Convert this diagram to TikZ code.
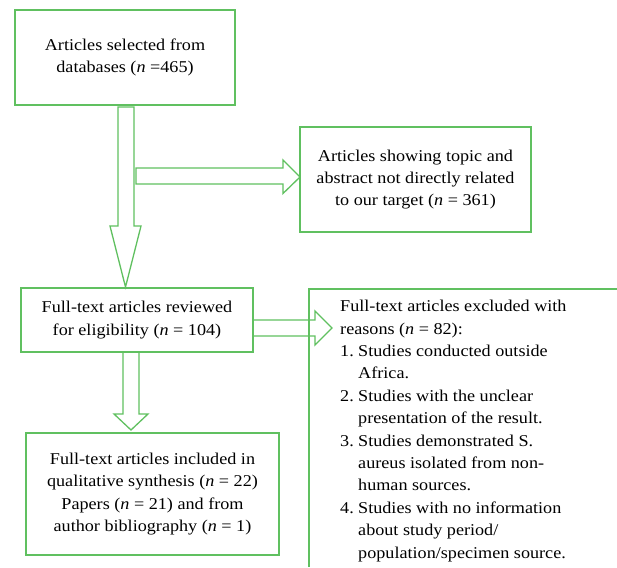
\documentclass[tikz,border=0pt]{standalone}
\usepackage{fontspec}
\setmainfont{Liberation Serif}[FakeStretch=1.1]
\definecolor{flowgreen}{RGB}{96,192,96}
\begin{document}
\begin{tikzpicture}[x=1pt,y=-1pt,
  box/.style={draw=flowgreen,line width=1.3pt,align=center,inner sep=0pt,font=\fontsize{16.5}{22.4}\selectfont},
  blk/.style={draw=flowgreen,line width=1.3pt,line join=miter},
  txt/.style={font=\fontsize{16.5}{22.4}\selectfont,align=left,inner sep=0pt}]
\useasboundingbox (0,0) rectangle (617,567);
\node[box,minimum width=220pt,minimum height=95pt] (b1) at (125,57.5) {Articles selected from\\databases (\textit{n} =465)};
\node[box,minimum width=231pt,minimum height=105pt] (b2) at (415.5,179.5) {Articles showing topic and\\abstract not directly related\\to our target (\textit{n} = 361)};
\node[box,minimum width=232pt,minimum height=64pt] (b3) at (137,320) {Full-text articles reviewed\\for eligibility (\textit{n} = 104)};
\node[box,minimum width=253pt,minimum height=122pt] (b5) at (152.5,494) {Full-text articles included in\\qualitative synthesis (\textit{n} = 22)\\Papers (\textit{n} = 21) and from\\author bibliography (\textit{n} = 1)};
% excluded box (cut off at right and bottom)
\coordinate (b4nw) at (309,289);
\draw[blk] (309,567) -- (b4nw) -- (617,289);
\node[txt,anchor=north west] (b4) at (340,300) {Full-text articles excluded with\\
reasons (\textit{n} = 82):\\
\makebox[18pt][l]{1.}Studies conducted outside\\
\hspace*{18pt}Africa.\\
\makebox[18pt][l]{2.}Studies with the unclear\\
\hspace*{18pt}presentation of the result.\\
\makebox[18pt][l]{3.}Studies demonstrated S.\\
\hspace*{18pt}aureus isolated from non-\\
\hspace*{18pt}human sources.\\
\makebox[18pt][l]{4.}Studies with no information\\
\hspace*{18pt}about study period/\\
\hspace*{18pt}population/specimen source.};
% block arrows
\draw[blk] (118,107) -- (134,107) -- (134,226) -- (141,226) -- (125.5,287) -- (110,226) -- (118,226) -- cycle;
\draw[blk] (136,168) -- (283,168) -- (283,160) -- (300,177) -- (283,193.5) -- (283,184) -- (136,184) -- cycle;
\draw[blk] (b3.east |- 0,320) -- (315,320) -- (315,311) -- (332,328) -- (315,345) -- (315,336) -- (b3.east |- 0,336);
\draw[blk] (123,352) -- (123,414) -- (114,414) -- (131,430) -- (148,414) -- (139,414) -- (139,352);
\end{tikzpicture}
\end{document}
